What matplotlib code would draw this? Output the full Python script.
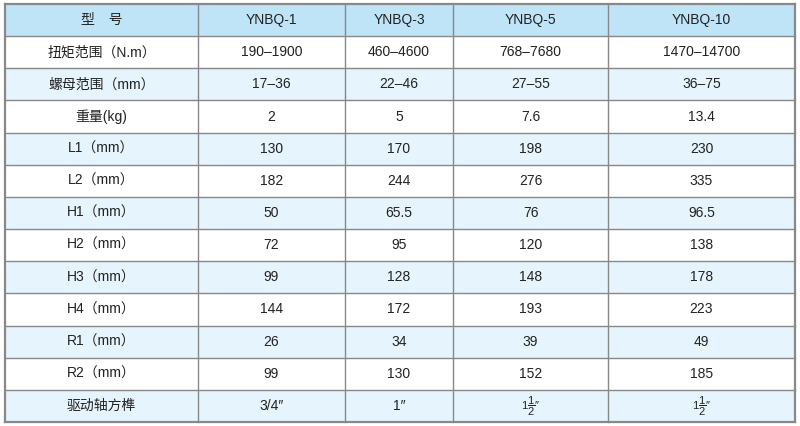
import matplotlib.pyplot as plt
from matplotlib.patches import Rectangle

plt.rcParams['font.family'] = ['Liberation Sans', 'Noto Sans CJK SC', 'DejaVu Sans']
plt.rcParams['mathtext.fontset'] = 'custom'
plt.rcParams['mathtext.rm'] = 'Liberation Sans'

header = ['型　号', 'YNBQ-1', 'YNBQ-3', 'YNBQ-5', 'YNBQ-10']
row_labels = ['扭矩范围（N.m）', '螺母范围（mm）', '重量(kg)', 'L1（mm）', 'L2（mm）',
              'H1（mm）', 'H2（mm）', 'H3（mm）', 'H4（mm）', 'R1（mm）', 'R2（mm）', '驱动轴方榫']
ynbq1 = ['190–1900', '17–36', '2', '130', '182', '50', '72', '99', '144', '26', '99', '3/4″']
ynbq3 = ['460–4600', '22–46', '5', '170', '244', '65.5', '95', '128', '172', '34', '130', '1″']
ynbq5 = ['768–7680', '27–55', '7.6', '198', '276', '76', '120', '148', '193', '39', '152', r'1$\dfrac{1}{2}$″']
ynbq10 = ['1470–14700', '36–75', '13.4', '230', '335', '96.5', '138', '178', '223', '49', '185', r'1$\dfrac{1}{2}$″']

col_edges = [5, 198, 345, 453, 608, 795]
top, bottom = 4, 422

fig = plt.figure(figsize=(8, 4.26), dpi=100)
ax = fig.add_axes([0, 0, 1, 1])
ax.set_xlim(0, 800)
ax.set_ylim(426, 0)
ax.axis('off')

rows = [header] + [[lab, a, b, c, d] for lab, a, b, c, d in zip(row_labels, ynbq1, ynbq3, ynbq5, ynbq10)]
n = len(rows)
rh = (bottom - top) / n

for i, row in enumerate(rows):
    y0 = top + i * rh
    if i == 0:
        color = '#bfe4f8'
    elif i % 2 == 0:
        color = '#e6f4fd'
    else:
        color = 'white'
    ax.add_patch(Rectangle((col_edges[0], y0), col_edges[-1] - col_edges[0], rh,
                           facecolor=color, edgecolor='none'))
    for j, txt in enumerate(row):
        xc = (col_edges[j] + col_edges[j + 1]) / 2
        fs = 8 if '$' in txt else 10
        ax.text(xc, y0 + rh / 2, txt, ha='center', va='center', fontsize=fs, color='#222222')

for k in range(n + 1):
    y = top + k * rh
    lw = 1.6 if k in (0, n) else 1.0
    ax.plot([col_edges[0], col_edges[-1]], [y, y], color='#888888', lw=lw)
for k, x in enumerate(col_edges):
    lw = 1.6 if k in (0, len(col_edges) - 1) else 1.0
    ax.plot([x, x], [top, bottom], color='#888888', lw=lw)

fig.savefig('out.png', dpi=100)
